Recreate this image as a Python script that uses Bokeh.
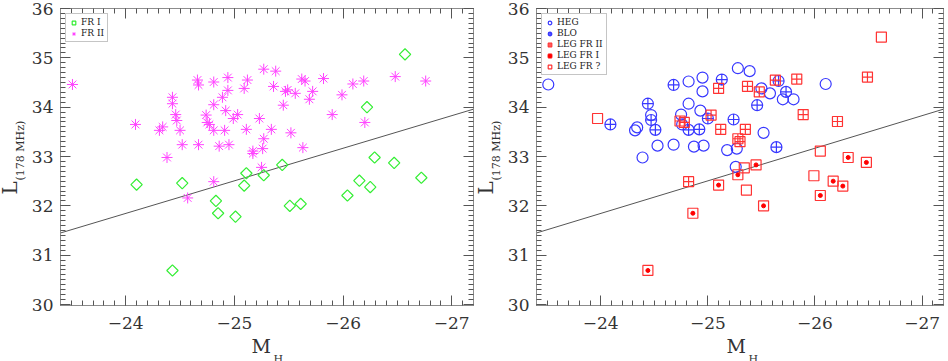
import numpy as np
from bokeh.plotting import figure
from bokeh.models import (Range1d, SingleIntervalTicker, LinearAxis, Legend, Title,
                          LegendItem, CustomJSTickFormatter)
from bokeh.layouts import row
from bokeh.embed import file_html
from bokeh.resources import INLINE

# ---------------- data ----------------
# Left panel: FR I / FR II
fr2_mh = [-23.51, -24.09, -24.31, -24.34, -24.38, -24.43, -24.43, -24.46, -24.47, -24.50,
          -24.52, -24.66, -24.67, -24.67, -24.74, -24.75, -24.77, -24.81, -24.81, -24.81,
          -24.86, -24.89, -24.92, -24.91, -24.94, -24.94, -24.95, -24.99, -25.03, -25.09,
          -25.12, -25.11, -25.17, -25.17, -25.23, -25.26, -25.25, -25.27, -25.27, -25.34,
          -25.36, -25.38, -25.45, -25.47, -25.49, -25.52, -25.56, -25.62, -25.65, -25.63,
          -25.69, -25.72, -25.82, -25.90, -25.99, -26.09, -26.19, -26.20, -26.48, -26.76,
          -24.81, -24.57]
fr2_l = [34.46, 33.65, 33.53, 33.60, 32.98, 34.20, 34.07, 33.85, 33.73, 33.53,
         33.24, 34.55, 34.45, 33.24, 33.84, 33.69, 33.65, 33.53, 34.05, 34.51,
         33.21, 34.20, 33.93, 33.53, 34.60, 34.34, 33.24, 33.77, 33.85, 34.38,
         34.55, 33.55, 33.11, 33.06, 33.77, 33.16, 32.78, 34.77, 33.36, 33.55,
         34.42, 34.73, 34.04, 34.32, 34.35, 33.48, 34.28, 34.57, 34.53, 33.18,
         34.16, 34.32, 34.58, 33.85, 34.25, 34.47, 34.53, 33.69, 34.62, 34.53,
         32.49, 32.16]
fr1_mh = [-26.57, -26.22, -26.29, -26.47, -26.72, -25.44, -25.11, -25.27, -24.10, -24.52,
          -25.09, -26.15, -26.25, -24.83, -24.85, -25.01, -25.51, -25.61, -26.04, -24.43]
fr1_l = [35.07, 34.00, 32.98, 32.87, 32.57, 32.83, 32.66, 32.62, 32.43, 32.46,
         32.41, 32.51, 32.38, 32.10, 31.85, 31.78, 32.00, 32.04, 32.21, 30.69]

# Right panel: HEG / BLO / LEG
heg_mh = [-23.51, -24.32, -24.34, -24.39, -24.47, -24.53, -24.68, -24.82, -24.82, -24.75,
          -24.76, -24.87, -24.95, -24.95, -24.93, -24.96, -25.18, -25.27, -25.26, -25.28,
          -25.39, -25.50, -25.58, -25.52, -25.70, -25.80, -26.10]
heg_l = [34.46, 33.53, 33.59, 32.98, 33.84, 33.22, 33.24, 34.52, 34.07, 33.85,
         33.65, 33.20, 34.60, 34.32, 33.93, 33.22, 33.13, 33.16, 32.79, 34.79,
         34.73, 34.38, 34.28, 33.48, 34.16, 34.16, 34.47]
blo_mh = [-24.09, -24.44, -24.47, -24.51, -24.68, -24.82, -24.92, -25.00, -25.13, -25.24,
          -25.46, -25.66, -25.73, -25.64]
blo_l = [33.65, 34.07, 33.74, 33.54, 34.45, 33.54, 33.55, 33.77, 34.56, 33.75,
         34.04, 34.53, 34.31, 33.19]
legfr2_mh = [-24.74, -24.78, -24.82, -25.03, -25.10, -25.12, -25.28, -25.30, -25.35, -25.37,
             -25.48, -25.63, -25.83, -25.89, -26.21, -26.49]
legfr2_l = [33.72, 33.69, 32.49, 33.84, 34.38, 33.55, 33.36, 33.30, 33.55, 34.42,
            34.31, 34.55, 34.57, 33.85, 33.71, 34.61]
legfr1_mh = [-25.10, -25.28, -25.45, -25.52, -24.86, -26.05, -26.17, -26.26, -26.31, -26.48, -24.44]
legfr1_l = [32.42, 32.63, 32.83, 32.00, 31.85, 32.21, 32.50, 32.40, 32.98, 32.88, 30.69]
legfrq_mh = [-23.97, -25.34, -25.36, -26.05, -25.99, -26.62]
legfrq_l = [33.77, 32.77, 32.32, 33.11, 32.61, 35.42]

# separating line (end points)
line_mh = [-23.4, -27.2]
line_l = [31.45, 33.96]

x_main = "M"
x_sub = "H"
y_main = "L"
y_sub = "(178 MHz)"

# ---------------- styling ----------------
FONT = "DejaVu Serif"
H = 361
XR = (-23.4, -27.2)
YR = (29.98, 36.0)
MBT = 8
MBB = 56
AX = "#8c8c8c"
TK = "#555555"
TXT = "#333333"

minus_fmt = CustomJSTickFormatter(code="return tick < 0 ? '\u2212' + Math.abs(tick) : '' + tick;")
blank_fmt = CustomJSTickFormatter(code="return '';")


def style_axis(ax, show, standoff=8):
    ax.ticker = SingleIntervalTicker(interval=1, num_minor_ticks=10)
    ax.major_tick_in = 10
    ax.major_tick_out = 0
    ax.minor_tick_in = 5
    ax.minor_tick_out = 0
    ax.axis_line_color = AX
    ax.major_tick_line_color = TK
    ax.minor_tick_line_color = TK
    ax.major_label_text_font = FONT
    ax.major_label_text_color = TXT
    ax.major_label_text_font_size = "17px"
    if show:
        ax.major_label_standoff = standoff
        ax.formatter = minus_fmt
    else:
        ax.major_label_standoff = 0
        ax.formatter = blank_fmt


def make_fig(width, mbl):
    p = figure(width=width, height=H, x_range=Range1d(*XR), y_range=Range1d(*YR),
               output_backend="svg", toolbar_location=None,
               min_border_left=mbl, min_border_right=2, min_border_top=MBT,
               min_border_bottom=MBB)
    p.grid.visible = False
    p.outline_line_color = AX
    style_axis(p.xaxis[0], True, 11)
    style_axis(p.yaxis[0], True, 7)
    top = LinearAxis()
    style_axis(top, False)
    right = LinearAxis()
    style_axis(right, False)
    p.add_layout(top, "above")
    p.add_layout(right, "right")
    p.line(line_mh, line_l, line_color="#555555", line_width=1)
    return p


def title(text, size, offset, standoff):
    return Title(text=text, align="left", offset=offset, standoff=standoff,
                 text_font=FONT, text_font_size=size, text_font_style="normal",
                 text_color=TXT)


def add_labels(p, m_off, h_off):
    p.add_layout(title(y_sub, "11px", 125, 3), "left")
    p.add_layout(title(y_main, "20px", 111, -23), "left")
    p.add_layout(title(x_main, "19px", m_off, 2), "below")
    p.add_layout(title(x_sub, "11px", h_off, -17), "below")


def style_legend(lg):
    lg.location = "top_left"
    lg.margin = 5
    lg.padding = 3
    lg.spacing = 1
    lg.label_text_font = FONT
    lg.label_text_font_size = "9px"
    lg.label_text_color = "#222222"
    lg.label_height = 9
    lg.glyph_height = 9
    lg.glyph_width = 9
    lg.label_standoff = 3
    lg.border_line_color = AX
    lg.border_line_width = 1
    lg.background_fill_alpha = 1.0


# ---------------- left panel ----------------
WL, MBL_L = 475, 60
pl = make_fig(WL, MBL_L)
r_fr2 = pl.scatter(fr2_mh, fr2_l, marker="asterisk", size=11, line_color="#ff44ff", line_width=1)
r_fr1 = pl.scatter(fr1_mh, fr1_l, marker="square", angle=np.pi / 4, size=8,
                   line_color="#33ee33", fill_color=None, line_width=1.2)
lg_l = Legend(items=[LegendItem(label="FR I", renderers=[r_fr1]),
                     LegendItem(label="FR II", renderers=[r_fr2])])
style_legend(lg_l)
pl.add_layout(lg_l)
add_labels(pl, 191, 213)

# ---------------- right panel ----------------
WR, MBL_R = 470, 61
pr = make_fig(WR, MBL_R)
BLUE = "#3838ff"
RED = "#ff3333"
r_heg = pr.scatter(heg_mh, heg_l, marker="circle", size=11, line_color=BLUE, fill_color=None, line_width=1.2)
r_blo = pr.scatter(blo_mh, blo_l, marker="circle_cross", size=11, line_color=BLUE, fill_color=None, line_width=1.2)
r_fr2r = pr.scatter(legfr2_mh, legfr2_l, marker="square_cross", size=10, line_color=RED, fill_color=None, line_width=1.2)
r_fr1r = pr.scatter(legfr1_mh, legfr1_l, marker="square", size=10, line_color=RED, fill_color=None, line_width=1.2)
r_fr1d = pr.scatter(legfr1_mh, legfr1_l, marker="circle", size=4, line_color="#ff0000", fill_color="#ff0000")
r_frq = pr.scatter(legfrq_mh, legfrq_l, marker="square", size=10, line_color=RED, fill_color=None, line_width=1.2)
lg_r = Legend(items=[LegendItem(label="HEG", renderers=[r_heg]),
                     LegendItem(label="BLO", renderers=[r_blo]),
                     LegendItem(label="LEG FR II", renderers=[r_fr2r]),
                     LegendItem(label="LEG FR I", renderers=[r_fr1r, r_fr1d]),
                     LegendItem(label="LEG FR ?", renderers=[r_frq])])
style_legend(lg_r)
pr.add_layout(lg_r)
add_labels(pr, 190, 212)

layout = row(pl, pr)
open("out.html", "w").write(file_html(layout, INLINE))
